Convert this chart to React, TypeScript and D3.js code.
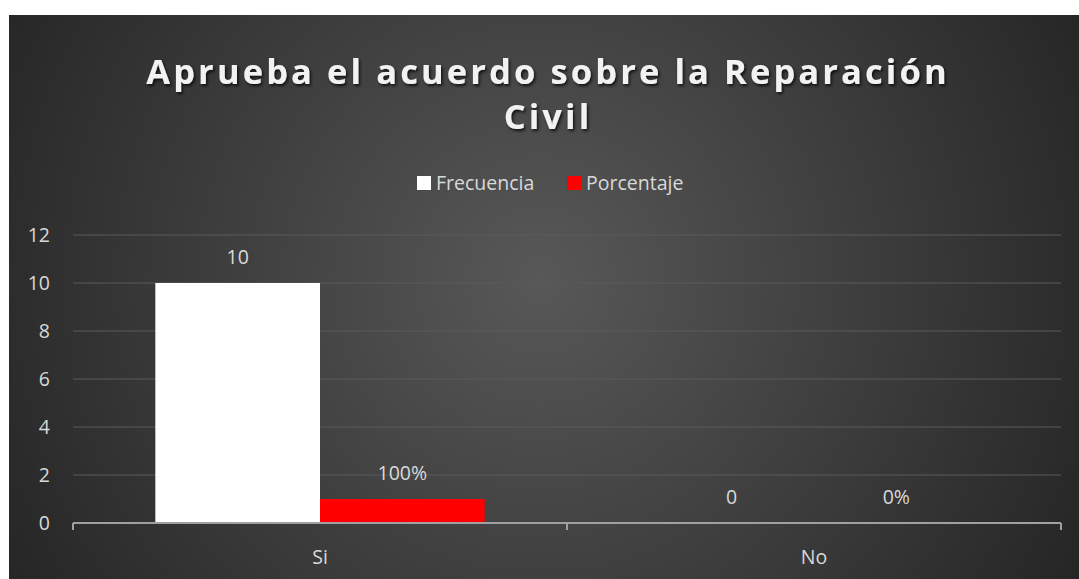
import * as d3 from "d3";
import React from "react";

const categories = ["Si", "No"];
const frecuencia = [10, 0];
const porcentaje = [1, 0];
const porcentajeLabels = ["100%", "0%"];
const yTicks = [0, 2, 4, 6, 8, 10, 12];
const titleLines = ["Aprueba el acuerdo sobre la Reparación", "Civil"];

const W = 1079;
const H = 579;
const margin = { left: 73, right: 18, top: 235, bottom: 56 };

export default function App() {
  const x = d3
    .scaleBand<string>()
    .domain(categories)
    .range([margin.left, W - margin.right])
    .paddingInner(0)
    .paddingOuter(0);

  const inner = d3
    .scaleBand<string>()
    .domain(["Frecuencia", "Porcentaje"])
    .range([0, x.bandwidth()])
    .paddingOuter(0.5)
    .paddingInner(0);

  const y = d3.scaleLinear().domain([0, 12]).range([H - margin.bottom, margin.top]);

  const font = "'Open Sans', sans-serif";
  const labelColor = "#d9d9d9";
  const fs = 19.5;

  return (
    <svg
      width={W}
      height={H}
      style={{ position: "absolute", left: 0, top: 0, background: "#fff" }}
      fontFamily={font}
    >
      <defs>
        <radialGradient id="bg" cx={540} cy={280} r={620} gradientUnits="userSpaceOnUse">
          <stop offset="0%" stopColor="#585858" />
          <stop offset="100%" stopColor="#252525" />
        </radialGradient>
        <filter id="shadow" x="-10%" y="-30%" width="120%" height="160%">
          <feDropShadow dx="1.5" dy="2" stdDeviation="1.5" floodColor="#000" floodOpacity="0.75" />
        </filter>
      </defs>
      <rect x={9} y={15} width={W - 9} height={H - 15} fill="url(#bg)" />

      {titleLines.map((t, i) => (
        <text
          key={t}
          x={548}
          y={84 + i * 45}
          textAnchor="middle"
          fontSize={34.5}
          fontWeight="bold"
          letterSpacing={3.1}
          fill="#f2f2f2"
          filter="url(#shadow)"
        >
          {t}
        </text>
      ))}

      {/* legend */}
      <g fontSize={fs} fill={labelColor}>
        <rect x={417} y={176} width={14} height={14} fill="#ffffff" />
        <text x={436} y={190}>Frecuencia</text>
        <rect x={567} y={176} width={14} height={14} fill="#ff0000" />
        <text x={586} y={190}>Porcentaje</text>
      </g>

      {/* grid */}
      {yTicks.map((t) => (
        <g key={t}>
          {t > 0 && (
            <line
              x1={margin.left}
              x2={W - margin.right}
              y1={y(t)}
              y2={y(t)}
              stroke="#5a5a5a"
              strokeWidth={1}
            />
          )}
          <text
            x={50}
            y={y(t)}
            dy="0.35em"
            textAnchor="end"
            fontSize={fs}
            fill={labelColor}
          >
            {t}
          </text>
        </g>
      ))}

      {/* bars */}
      {categories.map((c, i) => {
        const x0 = x(c)!;
        const fx = x0 + inner("Frecuencia")!;
        const px = x0 + inner("Porcentaje")!;
        return (
          <g key={c}>
            <rect
              x={fx}
              y={y(frecuencia[i])}
              width={inner.bandwidth()}
              height={y(0) - y(frecuencia[i])}
              fill="#ffffff"
            />
            <rect
              x={px}
              y={y(porcentaje[i])}
              width={inner.bandwidth()}
              height={y(0) - y(porcentaje[i])}
              fill="#ff0000"
            />
            <text
              x={fx + inner.bandwidth() / 2}
              y={y(frecuencia[i]) - 19}
              textAnchor="middle"
              fontSize={fs}
              fill={labelColor}
            >
              {frecuencia[i]}
            </text>
            <text
              x={px + inner.bandwidth() / 2}
              y={y(porcentaje[i]) - 19}
              textAnchor="middle"
              fontSize={fs}
              fill={labelColor}
            >
              {porcentajeLabels[i]}
            </text>
            <text
              x={x0 + x.bandwidth() / 2}
              y={H - margin.bottom + 41}
              textAnchor="middle"
              fontSize={fs}
              fill={labelColor}
            >
              {c}
            </text>
          </g>
        );
      })}

      {/* x axis */}
      <line
        x1={margin.left}
        x2={W - margin.right}
        y1={y(0)}
        y2={y(0)}
        stroke="#a0a0a0"
        strokeWidth={2}
      />
      {[...categories.map((c) => x(c)!), W - margin.right].map((tx, i) => (
        <line key={i} x1={tx} x2={tx} y1={y(0)} y2={y(0) + 7} stroke="#a0a0a0" strokeWidth={2} />
      ))}
    </svg>
  );
}
